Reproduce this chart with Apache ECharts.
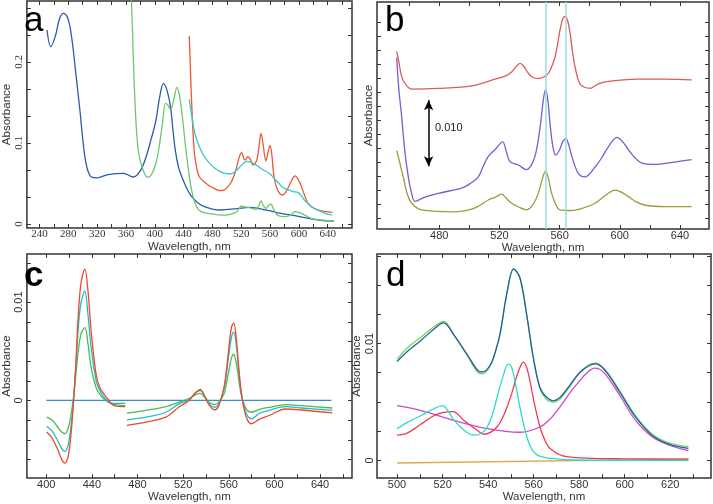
<!DOCTYPE html>
<html><head><meta charset="utf-8">
<script src="https://cdn.jsdelivr.net/npm/echarts@6/dist/echarts.min.js"></script>
<style>html,body{margin:0;padding:0;background:#fff}#c{width:713px;height:504px}</style>
</head><body><div id="c"></div>
<script>
// ---------- Panel a ----------
const aBlue = [[250.4,0.2395],[255.7,0.219],[262,0.232],[268,0.254],[273.7,0.260],[280,0.252],[285,0.228],[289.4,0.194],[293,0.165],[296,0.141],[300,0.105],[303,0.083],[307,0.066],[312,0.058],[320,0.057],[335,0.061],[356.7,0.0626],[370,0.058],[380,0.066],[388,0.083],[395,0.105],[401.6,0.128],[407,0.158],[412,0.1737],[417,0.165],[421.8,0.145],[425,0.118],[428.5,0.091],[433,0.070],[437.6,0.058],[445,0.043],[451,0.034],[460,0.026],[469,0.0214],[480,0.0185],[491.4,0.0173],[513.8,0.019],[531.8,0.0206],[545,0.019],[558.8,0.0164],[575,0.013],[590,0.011],[610,0.0075],[630,0.0045],[648.5,0.0037]];
const aGreen = [[366.6,0.30],[369,0.24],[372.4,0.153],[377,0.091],[383.7,0.0667],[390.4,0.0576],[396,0.062],[401.6,0.075],[406,0.095],[410.6,0.124],[415,0.149],[418,0.147],[421.8,0.141],[426,0.152],[430.8,0.1687],[434,0.160],[437.6,0.137],[441,0.110],[444.3,0.083],[451,0.042],[457.8,0.0214],[465,0.015],[473.4,0.0132],[495.9,0.011],[505,0.012],[513.8,0.0152],[520.5,0.0222],[525,0.021],[529.5,0.0206],[540.8,0.018],[544.5,0.023],[547.5,0.0284],[551,0.022],[554.2,0.0194],[558,0.023],[561,0.0247],[565,0.018],[570,0.011],[581,0.009],[588,0.011],[594.6,0.0152],[603.6,0.0132],[617,0.007],[630,0.005],[648.5,0.0037]];
const aRed = [[447.8,0.2325],[449.5,0.19],[451,0.153],[454.6,0.091],[458,0.070],[462,0.058],[470,0.051],[478,0.046],[491.4,0.0411],[498,0.043],[505,0.050],[510,0.060],[513.8,0.0708],[517,0.082],[520.5,0.088],[525,0.079],[529.5,0.083],[533,0.079],[536.3,0.0728],[541.6,0.079],[544.5,0.095],[547.5,0.112],[550,0.100],[554.2,0.078],[557,0.088],[560,0.0967],[562.5,0.085],[565.5,0.058],[570,0.043],[576.7,0.0358],[581,0.038],[585.7,0.046],[590,0.054],[594.6,0.0593],[599,0.055],[603.6,0.046],[608,0.035],[612.6,0.0255],[618,0.021],[626,0.0173],[635,0.0155],[646.3,0.0144]];
const aCyan = [[447.8,0.154],[451,0.135],[455.5,0.112],[462,0.095],[469,0.083],[478,0.073],[486.9,0.0667],[495,0.063],[505,0.0617],[512,0.065],[518.4,0.0708],[523,0.075],[527.3,0.0774],[533,0.0765],[540.8,0.0728],[550,0.067],[558.8,0.0626],[565,0.057],[572.2,0.050],[578,0.045],[585.7,0.042],[592,0.040],[599,0.0387],[604,0.034],[608,0.029],[612.6,0.0255],[618,0.021],[626,0.0173],[635,0.0135],[646.3,0.011]];

// ---------- Panel b (stacked offset traces) ----------
const bRed = [[451.7,0.0269],[453,0.0255],[455,0.0231],[458,0.0218],[461.6,0.0212],[479.3,0.0213],[501.5,0.0217],[517,0.0227],[524,0.0232],[528.1,0.0238],[531,0.0246],[533.7,0.0251],[536,0.0247],[539.2,0.0236],[542,0.0230],[545.8,0.0228],[551.4,0.0233],[554,0.0242],[557,0.0261],[559,0.0285],[560.3,0.0302],[562,0.0318],[563.6,0.0322],[565.3,0.0316],[567,0.0296],[568.6,0.0268],[570.2,0.0246],[572.5,0.0225],[574.7,0.0217],[580.2,0.0213],[585,0.0219],[590.2,0.0223],[612.3,0.0227],[630,0.0227],[647.8,0.0226]];
const bPurple = [[451.7,0.0260],[453,0.0215],[455,0.0170],[457,0.0120],[459.4,0.0079],[461.5,0.0055],[463.8,0.0042],[470,0.0048],[479.3,0.0054],[494.8,0.0062],[500,0.0068],[505.9,0.0079],[509,0.0094],[512.6,0.0110],[517,0.0120],[522.1,0.0132],[524.5,0.0118],[527,0.0102],[532.5,0.0097],[538,0.0090],[541,0.0096],[543.6,0.0110],[545.8,0.0135],[547.6,0.0165],[549.3,0.0198],[550.7,0.0211],[552.2,0.0195],[553.6,0.0160],[555.5,0.0125],[557.4,0.0112],[560,0.0120],[562,0.0132],[564.1,0.0137],[566,0.0128],[568.1,0.0110],[572.5,0.0084],[577,0.0079],[583.6,0.0094],[588,0.0108],[592.5,0.0125],[598.1,0.0139],[602,0.0132],[605.8,0.0120],[610,0.0108],[614.7,0.0100],[623.5,0.0098],[635,0.0101],[647.8,0.0105]];
const bOlive = [[451.7,0.0119],[454,0.0098],[456,0.0079],[458.5,0.0055],[461.6,0.0039],[468.3,0.0029],[490.4,0.0026],[501.5,0.0030],[507,0.0036],[512.6,0.0044],[517,0.0048],[521.5,0.0053],[524,0.0048],[527,0.0041],[533,0.0033],[538,0.0029],[542,0.0036],[545.8,0.0054],[548.5,0.0076],[550.7,0.0088],[552.6,0.0076],[554.7,0.0054],[557.5,0.0037],[560.3,0.0029],[568.1,0.0028],[576,0.0032],[583.6,0.0039],[590,0.0050],[596.9,0.0059],[601,0.0056],[605.8,0.0049],[611,0.0041],[617,0.0036],[630,0.0034],[647.8,0.0034]];
const bMarkers = [551, 564];

// ---------- Panel c (difference spectra) ----------
const cRed1 = [[400.3,-0.0032],[405,-0.0038],[410,-0.0050],[413.5,-0.0060],[416.2,-0.00637],[419,-0.0058],[421.5,-0.0036],[423.8,-0.00037],[426,0.0040],[428,0.00863],[430.5,0.0120],[433.8,0.01337],[436.5,0.0112],[439.4,0.00697],[443.7,0.00263],[447,0.0013],[450.8,0.00063],[455,0.0000],[459.3,-0.00053],[469.2,-0.00063]];
const cRed2 = [[470.6,-0.00253],[487.7,-0.0022],[504.7,-0.0017],[516,-0.0007],[525,0.0000],[531,0.0008],[535,0.00113],[539,0.0004],[543,-0.0005],[547.8,-0.00097],[551,-0.0006],[555.7,0.0013],[558,0.0032],[560,0.0053],[562.3,0.0074],[564.3,0.0079],[566.5,0.0064],[568.5,0.00363],[570.5,0.0012],[572.8,-0.00053],[576,-0.0019],[579.9,-0.00237],[587,-0.0019],[595.5,-0.00153],[609.6,-0.00087],[623.8,-0.00097],[650.8,-0.00127]];
const cCyan1 = [[400.3,-0.00263],[405,-0.0031],[410,-0.0041],[413.5,-0.0049],[416.2,-0.0052],[419,-0.0046],[421.5,-0.0028],[423.8,-0.00003],[426,0.0035],[428,0.0073],[430.5,0.0100],[433.8,0.01113],[436.5,0.0088],[439.4,0.0053],[443.7,0.0020],[447,0.0010],[450.8,0.0003],[455,-0.0002],[459.3,-0.0004],[469.2,-0.00053]];
const cCyan2 = [[470.6,-0.00197],[487.7,-0.0017],[504.7,-0.0012],[516,-0.00037],[525,0.0001],[531,0.0008],[535,0.0010],[539,0.0004],[543,-0.0004],[547.8,-0.0007],[551,-0.0004],[555.7,0.0011],[558,0.0028],[560,0.0046],[562.3,0.0064],[564.3,0.00697],[566.5,0.0057],[568.5,0.0033],[570.5,0.0011],[572.8,-0.00037],[576,-0.0015],[579.9,-0.00187],[587,-0.0013],[595.5,-0.0010],[609.6,-0.00063],[623.8,-0.00077],[650.8,-0.0010]];
const cGreen1 = [[400.3,-0.0017],[405,-0.0020],[410,-0.0027],[413.5,-0.0032],[416.2,-0.00337],[419,-0.0029],[421.5,-0.0016],[423.8,0.0003],[426,0.0027],[428,0.0050],[430.5,0.0068],[433.8,0.0074],[436.5,0.0058],[439.4,0.0033],[443.7,0.0013],[447,0.0006],[450.8,0.00013],[455,-0.0002],[459.3,-0.0003],[469.2,-0.0003]];
const cGreen2 = [[470.6,-0.0013],[487.7,-0.0010],[504.7,-0.00063],[516,-0.0002],[525,0.0002],[531,0.0006],[535,0.00073],[539,0.0003],[543,-0.0002],[547.8,-0.00043],[551,-0.0002],[555.7,0.00063],[558,0.0018],[560,0.0030],[562.3,0.0043],[564.3,0.0047],[566.5,0.0038],[568.5,0.0023],[570.5,0.0008],[572.8,-0.0002],[576,-0.0010],[579.9,-0.0012],[587,-0.0009],[595.5,-0.0007],[609.6,-0.00043],[623.8,-0.00053],[650.8,-0.00077]];
const cZero = [[400,0],[650,0]];

// ---------- Panel d (band fit) ----------
const dMeasured = [[500,0.00846],[505,0.0094],[510.6,0.01028],[516.4,0.01126],[520.4,0.01176],[525.1,0.0107],[530.9,0.00902],[535.9,0.00762],[537.4,0.00756],[541,0.00818],[543.5,0.0095],[545.4,0.01098],[548.3,0.01434],[551.2,0.01636],[554,0.0156],[557,0.01238],[559.9,0.00874],[562.8,0.00622],[565.7,0.0054],[568.6,0.00510],[571.4,0.00536],[575.8,0.0064],[580.1,0.00748],[584.5,0.00812],[587.4,0.00826],[591.7,0.00762],[597.5,0.00594],[604.8,0.0037],[612,0.00216],[619.3,0.0014],[628,0.00104]];
const dFit = [[500,0.00866],[505,0.0097],[510.6,0.01055],[516.4,0.01145],[520.4,0.01188],[525.1,0.0107],[530.9,0.00895],[535.9,0.00745],[537.4,0.0074],[541,0.00808],[543.5,0.0095],[545.4,0.01098],[548.3,0.01434],[551.2,0.01640],[554,0.0156],[557,0.01238],[559.9,0.00874],[562.8,0.00612],[565.7,0.0052],[568.6,0.00496],[571.4,0.00520],[575.8,0.0063],[580.1,0.0075],[584.5,0.00822],[587.4,0.00832],[591.7,0.0077],[597.5,0.00604],[604.8,0.0038],[612,0.00226],[619.3,0.0015],[628,0.00118]];
const dCyan = [[500,0.00272],[505,0.0033],[510.6,0.00384],[516,0.0044],[520,0.00468],[522.5,0.0042],[525.1,0.00342],[530,0.0025],[533.8,0.00216],[537,0.0023],[539.6,0.00286],[542,0.0040],[543.9,0.00538],[546.8,0.00734],[548.7,0.00824],[550,0.0081],[551.2,0.00734],[552.6,0.0060],[554,0.00454],[557,0.00202],[559.9,0.00076],[564.2,0.00028],[575.8,0.00006],[600,0.0],[628,0.0]];
const dRed = [[500,0.00216],[504,0.0023],[507.7,0.00272],[512,0.0033],[516.4,0.00384],[520.5,0.0041],[524.6,0.00417],[529.4,0.00342],[535.2,0.00258],[538.1,0.00224],[541,0.0024],[543.9,0.00286],[546,0.0035],[548.3,0.00454],[550.5,0.0058],[552.6,0.0072],[554.3,0.0081],[555.5,0.0084],[557,0.0079],[558.4,0.00678],[560.5,0.0047],[562.8,0.00286],[565,0.0017],[567.1,0.00104],[572.9,0.00039],[583,0.0002],[600,0.00014],[628,0.00011]];
const dMagenta = [[500,0.00468],[510.6,0.00426],[525.1,0.00342],[539.6,0.00272],[554,0.00241],[562.8,0.00286],[567,0.0035],[571.4,0.00454],[576,0.0058],[580.1,0.00678],[583.5,0.0075],[586.7,0.0079],[589,0.0078],[591.7,0.00734],[597.5,0.00566],[604.8,0.00342],[612,0.00202],[619.3,0.00132],[628,0.00084]];
const dBase = [[500,-0.00022],[628,0.00011]];

// ---------- ticks / labels ----------
const aXLabels = [240,280,320,360,400,440,480,520,560,600,640];
const aXTicks = [240,260,280,300,320,340,360,380,400,420,440,460,480,500,520,540,560,580,600,620,640,660];
const aYLabels = [0,0.1,0.2];
const aYTicks = [0,0.0333,0.0667,0.1,0.1333,0.1667,0.2,0.2333,0.2667];
const bXLabels = [480,520,560,600,640];
const bXTicks = [460,480,500,520,540,560,580,600,620,640];
const bYTicks = [0.00167,0.00379,0.00591,0.00803,0.01015,0.01227,0.01439,0.01652,0.01864,0.02076,0.02288,0.02500,0.02712,0.02924,0.03136];
const cXLabels = [400,440,480,520,560,600,640];
const cXTicks = [400,420,440,460,480,500,520,540,560,580,600,620,640,660];
const cYLabels = [0,0.01];
const cYTicks = [-0.006,-0.004,-0.002,0,0.002,0.004,0.006,0.008,0.01,0.012,0.014];
const dXLabels = [500,520,540,560,580,600,620];
const dXTicks = [500,510,520,530,540,550,560,570,580,590,600,610,620,630];
const dYLabels = [0,0.01];
const dYTicks = [0,0.0025,0.005,0.0075,0.01,0.0125,0.015,0.0175];

const grids = [
  {left:17, top:1, width:335, height:227},
  {left:377, top:2, width:332, height:227},
  {left:17, top:254, width:335, height:228},
  {left:377, top:254, width:334, height:228}
];
const ranges = [
  {x:[222.5,673.7], y:[-0.00494,0.2753], xl:aXLabels, xt:aXTicks, yl:aYLabels, yt:aYTicks, font:'Liberation Serif', ygap:11},
  {x:[438.6,659.3], y:[0,0.0344], xl:bXLabels, xt:bXTicks, yl:[], yt:bYTicks, font:'Liberation Sans', ygap:2},
  {x:[383,668], y:[-0.0079,0.0149], xl:cXLabels, xt:cXTicks, yl:cYLabels, yt:cYTicks, font:'Liberation Sans', ygap:11},
  {x:[491.2,637.9], y:[-0.00151,0.01765], xl:dXLabels, xt:dXTicks, yl:dYLabels, yt:dYTicks, font:'Liberation Sans', ygap:11}
];

const xAxis = [], yAxis = [];
ranges.forEach((r, gi) => {
  const tick = (vals) => ({show:true, inside:true, length:4, customValues:vals, lineStyle:{color:'#333', width:1}});
  const noLine = {show:false, onZero:false};
  xAxis.push({type:'value', gridIndex:gi, position:'bottom', min:r.x[0], max:r.x[1],
    axisLine:noLine, splitLine:{show:false}, axisTick:tick(r.xt),
    axisLabel:{show:true, customValues:r.xl, margin:1, fontSize:11, color:'#333', fontFamily:r.font},
    name:'Wavelength, nm', nameLocation:'middle', nameGap:10,
    nameTextStyle:{fontSize:11.5, color:'#333', fontFamily:'Liberation Sans'}});
  xAxis.push({type:'value', gridIndex:gi, position:'top', min:r.x[0], max:r.x[1],
    axisLine:noLine, splitLine:{show:false}, axisTick:tick(r.xt), axisLabel:{show:false}});
  yAxis.push({type:'value', gridIndex:gi, position:'left', min:r.y[0], max:r.y[1],
    axisLine:noLine, splitLine:{show:false}, axisTick:tick(r.yt),
    axisLabel:{show:r.yl.length>0, customValues:r.yl, rotate:90, margin:2, fontSize:11, color:'#333', fontFamily:r.font},
    name:'Absorbance', nameLocation:'middle', nameRotate:90, nameGap:r.ygap,
    nameTextStyle:{fontSize:11.5, color:'#333', fontFamily:'Liberation Sans'}});
  yAxis.push({type:'value', gridIndex:gi, position:'right', min:r.y[0], max:r.y[1],
    axisLine:noLine, splitLine:{show:false}, axisTick:tick(r.yt), axisLabel:{show:false}});
});

function line(gi, data, color, extra) {
  return Object.assign({type:'line', xAxisIndex:2*gi, yAxisIndex:2*gi, data:data, showSymbol:false,
    smooth:0.35, lineStyle:{color:color, width:1.3}, itemStyle:{color:color}, silent:true, z:3}, extra||{});
}

const series = [
  line(0, aBlue, '#2a5caa'),
  line(0, aGreen, '#6cc86a'),
  line(0, aRed, '#ee5533'),
  line(0, aCyan, '#33c9c9'),
  line(1, bRed, '#dd5a5a', {markLine:{silent:true, symbol:['none','none'], label:{show:false},
      lineStyle:{color:'#99dede', width:1.5, type:'solid'}, data: bMarkers.map(v => ({xAxis:v}))}}),
  line(1, bPurple, '#7a5ccc', {markLine:{silent:true, symbol:['arrow','arrow'], symbolSize:[7,10], label:{show:false},
      lineStyle:{color:'#000', width:1.5, type:'solid'}, data:[[{coord:[472.9,0.0195]},{coord:[472.9,0.0095]}]]}}),
  line(1, bOlive, '#a09a3a'),
  line(2, cZero, '#3a8ad0', {smooth:false}),
  line(2, cGreen1, '#4cbb4c'), line(2, cGreen2, '#4cbb4c'),
  line(2, cCyan1, '#22bbcc'), line(2, cCyan2, '#22bbcc'),
  line(2, cRed1, '#ee4a2a'), line(2, cRed2, '#ee4a2a'),
  line(3, dBase, '#e0a84a', {smooth:false}),
  line(3, dMagenta, '#cc48cc'),
  line(3, dRed, '#ee3a50'),
  line(3, dCyan, '#2adccc'),
  line(3, dFit, '#66dd55'),
  line(3, dMeasured, '#2a5aa8')
];

const letter = (t, x, y, bold) => ({type:'text', left:x, top:y, z:10,
  style:{text:t, fontSize:35, fontFamily:'Liberation Sans', fontWeight:bold?'bold':'normal', fill:'#000'}});

const chart = echarts.init(document.getElementById('c'), null, {renderer:'canvas'});
chart.setOption({
  animation:false,
  backgroundColor:'#fff',
  grid: grids.map(g => Object.assign({show:true, borderColor:'#333', borderWidth:1.5, backgroundColor:'transparent', containLabel:false}, g)),
  xAxis, yAxis, series,
  graphic:[
    letter('a', 24, 4, false),
    letter('b', 385, 4, false),
    letter('c', 24, 259, true),
    letter('d', 386, 259, false),
    {type:'text', left:435, top:122, z:10, style:{text:'0.010', fontSize:11, fontFamily:'Liberation Sans', fill:'#222'}}
  ]
});
</script></body></html>
